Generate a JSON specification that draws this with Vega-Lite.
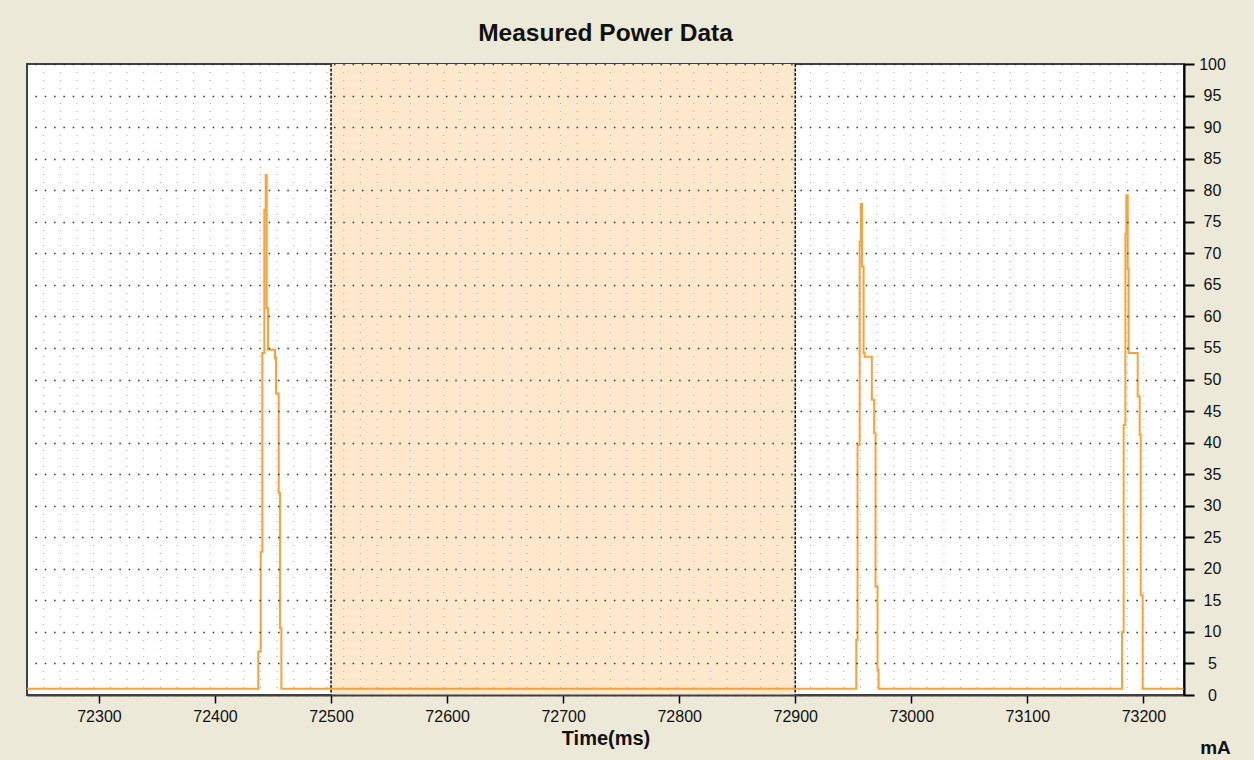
{
  "$schema": "https://vega.github.io/schema/vega-lite/v6.json",
  "width": 1157,
  "height": 631,
  "autosize": "none",
  "padding": {"left": 27, "top": 64, "right": 70, "bottom": 65},
  "background": "#ECE9D8",
  "config": {
    "view": {"fill": "white", "stroke": "#404040", "strokeWidth": 2}
  },
  "title": {
    "text": "Measured Power Data",
    "font": "Liberation Sans",
    "fontSize": 24.5,
    "fontWeight": "bold",
    "color": "#111111",
    "anchor": "middle",
    "offset": 10
  },
  "datasets": {
    "power": [
      {"t": 72238, "mA": 1},
      {"t": 72437.3, "mA": 6.9},
      {"t": 72439.4, "mA": 22.7},
      {"t": 72440.8, "mA": 54.2},
      {"t": 72442.5, "mA": 76.9},
      {"t": 72443.7, "mA": 82.4},
      {"t": 72444.5, "mA": 61.3},
      {"t": 72445.7, "mA": 54.7},
      {"t": 72451.7, "mA": 53.4},
      {"t": 72452.6, "mA": 47.8},
      {"t": 72454.9, "mA": 32},
      {"t": 72456, "mA": 10.6},
      {"t": 72457.2, "mA": 1},
      {"t": 72952.6, "mA": 8.7},
      {"t": 72953.7, "mA": 39.6},
      {"t": 72955.5, "mA": 71.8},
      {"t": 72956.6, "mA": 77.8},
      {"t": 72957.5, "mA": 67.9},
      {"t": 72958.9, "mA": 54.2},
      {"t": 72959.8, "mA": 53.6},
      {"t": 72966, "mA": 46.8},
      {"t": 72968, "mA": 41.5},
      {"t": 72969.2, "mA": 17.2},
      {"t": 72970.9, "mA": 4},
      {"t": 72971.8, "mA": 1},
      {"t": 73181.6, "mA": 10},
      {"t": 73183, "mA": 42.8},
      {"t": 73184.5, "mA": 73.1},
      {"t": 73185.3, "mA": 79.2},
      {"t": 73186.5, "mA": 67.6},
      {"t": 73187.3, "mA": 54.2},
      {"t": 73195.1, "mA": 47.3},
      {"t": 73196.8, "mA": 41.2},
      {"t": 73197.7, "mA": 15.8},
      {"t": 73199.4, "mA": 1},
      {"t": 73235, "mA": 1}
    ],
    "region": [{"start": 72500, "end": 72900}]
  },
  "layer": [
    {
      "data": {"name": "region"},
      "mark": {"type": "rect", "fill": "#FDE8CC"},
      "encoding": {
        "x": {
          "field": "start",
          "type": "quantitative",
          "scale": {"domain": [72238, 73235], "nice": false, "zero": false},
          "axis": {
            "values": [72300, 72400, 72500, 72600, 72700, 72800, 72900, 73000, 73100, 73200],
            "format": "d",
            "grid": false,
            "tickSize": 8,
            "tickColor": "#000000",
            "tickWidth": 1.5,
            "domainColor": "#404040",
            "domainWidth": 2,
            "labelFont": "Liberation Sans",
            "labelFontSize": 16,
            "labelColor": "#111111",
            "labelPadding": 5,
            "labelFlush": false,
            "labelOverlap": false,
            "title": "Time(ms)",
            "titleFont": "Liberation Sans",
            "titleFontSize": 20,
            "titleFontWeight": "bold",
            "titleColor": "#111111",
            "titlePadding": 4,
            "zindex": 1
          }
        },
        "x2": {"field": "end"}
      }
    },
    {
      "data": {"name": "region"},
      "mark": {"type": "rule", "color": "#111111", "strokeWidth": 1.5, "strokeDash": [3, 1.5]},
      "encoding": {"x": {"field": "start", "type": "quantitative"}}
    },
    {
      "data": {"name": "region"},
      "mark": {"type": "rule", "color": "#111111", "strokeWidth": 1.5, "strokeDash": [3, 1.5]},
      "encoding": {"x": {"field": "end", "type": "quantitative"}}
    },
    {
      "data": {"name": "power"},
      "mark": {"type": "line", "interpolate": "step-after", "color": "#FFA030", "strokeWidth": 2},
      "encoding": {
        "x": {"field": "t", "type": "quantitative"},
        "y": {
          "field": "mA",
          "type": "quantitative",
          "scale": {"domain": [0, 100], "nice": false},
          "axis": {
            "orient": "right",
            "values": [0, 5, 10, 15, 20, 25, 30, 35, 40, 45, 50, 55, 60, 65, 70, 75, 80, 85, 90, 95, 100],
            "format": "d",
            "grid": true,
            "gridDash": [1.5, 7.83],
            "gridColor": "#303030",
            "gridWidth": 1.5,
            "tickSize": 10,
            "tickColor": "#000000",
            "tickWidth": 2,
            "domainColor": "#000000",
            "domainWidth": 2,
            "labelFont": "Liberation Sans",
            "labelFontSize": 16,
            "labelColor": "#111111",
            "labelAlign": "center",
            "labelBaseline": "middle",
            "labelPadding": 18,
            "labelFlush": false,
            "labelOverlap": false,
            "title": "mA",
            "titleAngle": 0,
            "titleX": 31,
            "titleY": 689,
            "titleAlign": "center",
            "titleBaseline": "alphabetic",
            "titleFont": "Liberation Sans",
            "titleFontSize": 19,
            "titleFontWeight": "bold",
            "titleColor": "#111111",
            "zindex": 1
          }
        }
      }
    },
    {
      "data": {"name": "power"},
      "mark": {"type": "line", "strokeOpacity": 0},
      "encoding": {
        "x": {"field": "t", "type": "quantitative"},
        "y": {
          "field": "mA",
          "type": "quantitative",
          "axis": {
            "orient": "left",
            "values": [1.25, 2.5, 3.75, 6.25, 7.5, 8.75, 11.25, 12.5, 13.75, 16.25, 17.5, 18.75, 21.25, 22.5, 23.75, 26.25, 27.5, 28.75, 31.25, 32.5, 33.75, 36.25, 37.5, 38.75, 41.25, 42.5, 43.75, 46.25, 47.5, 48.75, 51.25, 52.5, 53.75, 56.25, 57.5, 58.75, 61.25, 62.5, 63.75, 66.25, 67.5, 68.75, 71.25, 72.5, 73.75, 76.25, 77.5, 78.75, 81.25, 82.5, 83.75, 86.25, 87.5, 88.75, 91.25, 92.5, 93.75, 96.25, 97.5, 98.75],
            "grid": true,
            "gridDash": [1, 15.67],
            "gridDashOffset": 1,
            "gridColor": "#A0A8BC",
            "gridWidth": 1,
            "labels": false,
            "ticks": false,
            "domain": false,
            "title": null,
            "zindex": 1
          }
        }
      }
    }
  ],
  "resolve": {"axis": {"y": "independent"}}
}
